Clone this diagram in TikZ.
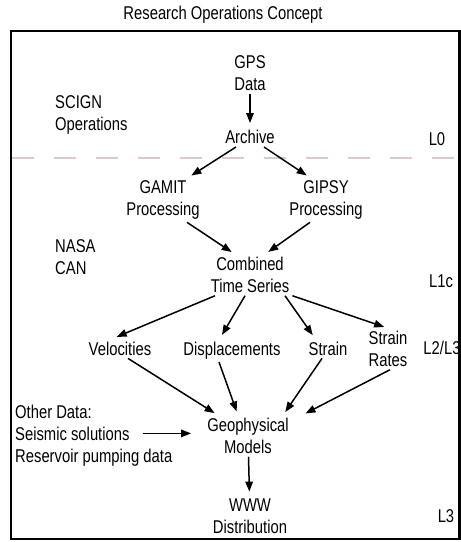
\documentclass[tikz,border=0pt]{standalone}
\usepackage{fontspec}
\setmainfont[FakeStretch=0.8]{Liberation Sans}
\usetikzlibrary{arrows.meta}
\definecolor{levelline}{RGB}{218,200,202}
\tikzset{
  lbl/.style={align=center,font=\fontsize{18.5}{21.5}\selectfont,inner sep=3pt},
  side/.style={lbl,align=left,anchor=west},
  arr/.style={-{Triangle[length=10pt,width=7.5pt]},line width=1.5pt,shorten >=4pt},
}
\begin{document}
\begin{tikzpicture}[x=1pt,y=-1pt]
\useasboundingbox (0,0) rectangle (461,542);
\draw[line width=2.2pt] (11,31) rectangle (459.5,539);
\draw[levelline,line width=2pt,dash pattern=on 22pt off 20pt] (12,158) -- (458,158);
\node[lbl] (title) at (223,15) {Research Operations Concept};
% level labels
\node[side] (scign) at (52,115) {SCIGN\\Operations};
\node[side] (nasa) at (52,257) {NASA\\CAN};
\node[lbl] (l0) at (437,139) {L0};
\node[lbl] (l1c) at (441,281) {L1c};
\node[lbl] (l23) at (442,348) {L2/L3};
\node[lbl] (l3) at (446,516) {L3};
% processing chain
\node[lbl] (gps) at (250,73) {GPS\\Data};
\node[lbl] (arc) at (250,137) {Archive};
\node[lbl] (gamit) at (163,200) {GAMIT\\Processing};
\node[lbl] (gipsy) at (326,200) {GIPSY\\Processing};
\node[lbl] (cts) at (250,275) {Combined\\Time Series};
\node[lbl,anchor=base] (vel) at (120,355) {Velocities};
\node[lbl,anchor=base] (disp) at (232,355) {Displacements};
\node[lbl,anchor=base] (strain) at (328,355) {Strain};
\node[lbl] (rates) at (388,349) {Strain\\Rates};
\node[lbl] (geo) at (248,436) {Geophysical\\Models};
\node[lbl] (www) at (250,516) {WWW\\Distribution};
\node[lbl,anchor=base west] (od1) at (12,418) {Other Data:};
\node[lbl,anchor=base west] (od2) at (12,440) {Seismic solutions};
\node[lbl,anchor=base west] (od3) at (12,462) {Reservoir pumping data};

\draw[arr] (gps) -- (arc);
\draw[arr] ([xshift=-14pt]arc.south) -- ([xshift=25pt]gamit.north);
\draw[arr] ([xshift=14pt]arc.south) -- ([xshift=-16pt]gipsy.north);
\draw[arr] ([xshift=24pt]gamit.south) -- ([xshift=-15pt]cts.north);
\draw[arr] ([xshift=-16pt]gipsy.south) -- ([xshift=15pt]cts.north);
\draw[arr] ([xshift=-35pt]cts.south) -- ([xshift=-7pt]vel.north);
\draw[arr] ([xshift=-5pt]cts.south) -- ([xshift=-12pt]disp.north);
\draw[arr] ([xshift=35pt]cts.south) -- ([xshift=-13pt]strain.north);
\draw[arr] (cts.south east) -- (rates.north);
\draw[arr] ([xshift=8pt]vel.south) -- ([xshift=-30pt]geo.north);
\draw[arr] ([xshift=-13pt]disp.south) -- ([xshift=-10pt]geo.north);
\draw[arr] ([xshift=-6pt]strain.south) -- ([xshift=35pt]geo.north);
\draw[arr] ([xshift=2pt]rates.south) -- ([xshift=10pt]geo.north east);
\draw[arr,shorten <=10pt,shorten >=13pt] (od2.east) -- (od2.east -| geo.west);
\draw[arr] (geo) -- (www);
\end{tikzpicture}
\end{document}
